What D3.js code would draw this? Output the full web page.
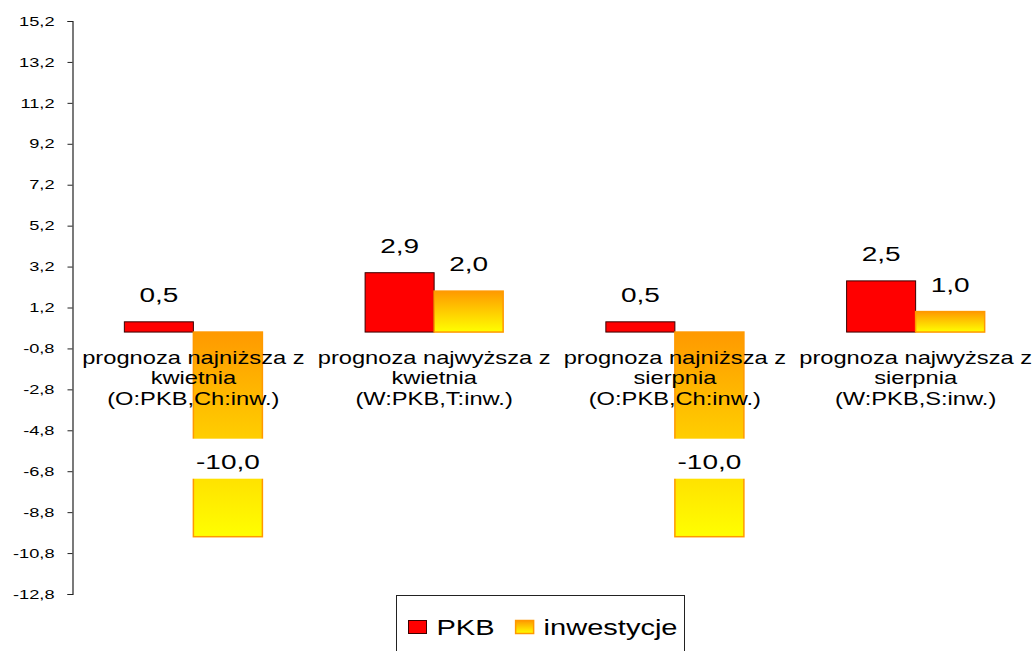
<!DOCTYPE html>
<html>
<head>
<meta charset="utf-8">
<script src="https://cdn.jsdelivr.net/npm/d3@7"></script>
<style>
  body { margin: 0; background: #fff; }
  text { font-family: "Liberation Sans", Arial, sans-serif; fill: #000; }
</style>
</head>
<body>
<div id="chart"></div>
<script>
// dane
const categories = [
  ["prognoza najniższa z", "kwietnia", "(O:PKB,Ch:inw.)"],
  ["prognoza najwyższa z", "kwietnia", "(W:PKB,T:inw.)"],
  ["prognoza najniższa z", "sierpnia", "(O:PKB,Ch:inw.)"],
  ["prognoza najwyższa z", "sierpnia", "(W:PKB,S:inw.)"]
];
const seriesNames = ["PKB", "inwestycje"];
const pkb = [0.5, 2.9, 0.5, 2.5];
const inwestycje = [-10.0, 2.0, -10.0, 1.0];
const yTicks = [-12.8, -10.8, -8.8, -6.8, -4.8, -2.8, -0.8, 1.2, 3.2, 5.2, 7.2, 9.2, 11.2, 13.2, 15.2];

const width = 1033;
const height = 651;
const margin = { top: 21, right: -3, bottom: 57, left: 73 };

const fmt = (v) => v.toFixed(1).replace(".", ",");

// obraz jest rozciągnięty poziomo, więc tekst też
const stretch = (sel, sx) => {
  sel.each(function () {
    const t = d3.select(this);
    const x = +t.attr("x") || 0;
    const y = +t.attr("y") || 0;
    t.attr("x", 0).attr("y", 0)
      .attr("transform", `translate(${x},${y}) scale(${sx},1)`);
  });
};

const svg = d3.select("#chart")
  .append("svg")
  .attr("width", width)
  .attr("height", height);

const defs = svg.append("defs");
const grad = defs.append("linearGradient")
  .attr("id", "invGrad")
  .attr("x1", 0).attr("y1", 0).attr("x2", 0).attr("y2", 1);
grad.append("stop").attr("offset", "0%").attr("stop-color", "#FF9900");
grad.append("stop").attr("offset", "100%").attr("stop-color", "#FFFF00");

const colors = { "PKB": "#FF0000", "inwestycje": "url(#invGrad)" };
const strokes = { "PKB": "#3a0000", "inwestycje": "#FF9900" };

const data = categories.map((c, i) => ({
  cat: i,
  lines: c,
  values: [
    { key: "PKB", value: pkb[i] },
    { key: "inwestycje", value: inwestycje[i] }
  ]
}));

const x0 = d3.scaleBand()
  .domain(d3.range(categories.length))
  .range([margin.left, width - margin.right])
  .padding(0);

const x1 = d3.scaleBand()
  .domain(seriesNames)
  .range([0, x0.bandwidth()])
  .paddingInner(0)
  .paddingOuter(0.744);

const y = d3.scaleLinear()
  .domain([yTicks[0], yTicks[yTicks.length - 1]])
  .range([height - margin.bottom, margin.top]);

// oś Y
const yAxis = svg.append("g")
  .attr("transform", `translate(${margin.left - 0.5},0)`)
  .call(d3.axisLeft(y).tickValues(yTicks).tickFormat(fmt).tickSize(5).tickPadding(13));
yAxis.select(".domain").attr("stroke", "#222").attr("stroke-width", 1.2);
yAxis.selectAll(".tick line").attr("stroke", "#222");
yAxis.selectAll(".tick text")
  .attr("font-size", 13)
  .attr("fill", "#000")
  .call(stretch, 1.4);

// słupki
const group = svg.selectAll("g.cat")
  .data(data)
  .join("g")
  .attr("class", "cat")
  .attr("transform", (d) => `translate(${x0(d.cat)},0)`);

group.selectAll("rect")
  .data((d) => d.values)
  .join("rect")
  .attr("x", (d) => x1(d.key))
  .attr("y", (d) => y(Math.max(0, d.value)))
  .attr("width", x1.bandwidth())
  .attr("height", (d) => Math.abs(y(d.value) - y(0)))
  .attr("fill", (d) => colors[d.key])
  .attr("stroke", (d) => strokes[d.key])
  .attr("stroke-width", (d) => d.key === "PKB" ? 1 : 1.5);

// etykiety kategorii (na wierzchu słupków)
group.each(function (d) {
  const g = d3.select(this);
  d.lines.forEach((line, i) => {
    g.append("text")
      .attr("x", x0.bandwidth() / 2)
      .attr("y", y(0) + 32 + i * 20.3)
      .attr("text-anchor", "middle")
      .attr("font-size", 18.5)
      .text(line)
      .call(stretch, 1.28);
  });
});

// etykiety wartości
group.selectAll("g.val")
  .data((d) => d.values)
  .join("g")
  .attr("class", "val")
  .each(function (d) {
    const g = d3.select(this);
    const cx = x1(d.key) + x1.bandwidth() / 2;
    const base = d.value >= 0 ? y(d.value) - 20 : y(d.value) - 68;
    if (d.value < 0) {
      g.append("rect")
        .attr("x", cx - 40)
        .attr("y", base - 30)
        .attr("width", 80)
        .attr("height", 40)
        .attr("fill", "#fff");
    }
    g.append("text")
      .attr("x", cx)
      .attr("y", base)
      .attr("text-anchor", "middle")
      .attr("font-size", 20)
      .text(fmt(d.value))
      .call(stretch, 1.4);
  });

// legenda
const legend = svg.append("g").attr("transform", "translate(396.5,595.5)");
legend.append("rect")
  .attr("width", 288)
  .attr("height", 70)
  .attr("fill", "#fff")
  .attr("stroke", "#222")
  .attr("stroke-width", 1);

let lx = 12;
seriesNames.forEach((name) => {
  legend.append("rect")
    .attr("x", lx)
    .attr("y", 25)
    .attr("width", 18)
    .attr("height", 13)
    .attr("fill", colors[name])
    .attr("stroke", strokes[name])
    .attr("stroke-width", name === "PKB" ? 1 : 1.5);
  const t = legend.append("text")
    .attr("x", lx + 28)
    .attr("y", 39)
    .attr("font-size", 22)
    .text(name);
  const w = t.node().getComputedTextLength() * 1.32;
  t.call(stretch, 1.32);
  lx += 28 + w + 21;
});
</script>
</body>
</html>
